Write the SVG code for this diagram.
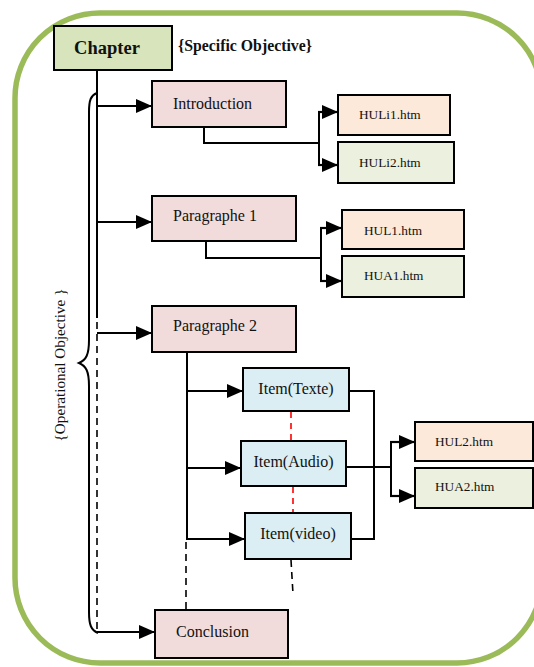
<svg xmlns="http://www.w3.org/2000/svg" width="534" height="667" viewBox="0 0 534 667">
<style>
.box{stroke:#000;stroke-width:2}
.ch{fill:#D7E4BC}
.pk{fill:#F2DCDB}
.or{fill:#FDE9D9}
.gr{fill:#EBF1DE}
.bl{fill:#DAEEF3}
.t{font-family:"Times New Roman","Liberation Serif",Tinos,"Nimbus Roman",Times,serif;fill:#111}
.t16{font-size:16px}
.t13{font-size:13.3px}
.ln{fill:none;stroke:#000;stroke-width:2}
.arr{fill:none;stroke:#000;stroke-width:2.2;marker-end:url(#ah)}
.dash{fill:none;stroke:#000;stroke-width:1.6;stroke-dasharray:7 5}
.red{fill:none;stroke:#FF0000;stroke-width:1.6;stroke-dasharray:6 5}
</style>
<defs>
<marker id="ah" markerUnits="userSpaceOnUse" markerWidth="16" markerHeight="14" refX="16" refY="7" orient="auto">
<path d="M0,0 L16,7 L0,14 z" fill="#000"/>
</marker>
</defs>
<rect x="15" y="13" width="527" height="650" rx="85" ry="85" fill="none" stroke="#9BBB59" stroke-width="5.5"/>

<g id="connectors">
<line class="ln" x1="97" y1="70" x2="97" y2="318"/>
<line class="dash" x1="97" y1="322" x2="97" y2="632"/>
<path class="ln" d="M97 93 C91 95 89 100 89 112 L89 340 C89 355 86 360 79 363 C86 366 89 371 89 386 L89 612 C89 625 91 630 98 633" stroke-width="1.6"/>
<line class="arr" x1="97" y1="106" x2="152" y2="106"/>
<line class="arr" x1="97" y1="222" x2="152" y2="222"/>
<line class="arr" x1="97" y1="333" x2="152" y2="333"/>
<line class="arr" x1="97" y1="632" x2="155" y2="632"/>
<path class="ln" d="M204 127 V143 H319"/>
<line class="ln" x1="319" y1="112" x2="319" y2="165"/>
<line class="arr" x1="318" y1="112" x2="338" y2="112"/>
<line class="arr" x1="318" y1="165" x2="338" y2="165"/>
<path class="ln" d="M206 241 V258 H321"/>
<line class="ln" x1="321" y1="228" x2="321" y2="281"/>
<line class="arr" x1="320" y1="228" x2="342" y2="228"/>
<line class="arr" x1="320" y1="281" x2="342" y2="281"/>
<line class="ln" x1="187" y1="352" x2="187" y2="540"/>
<line class="dash" x1="186" y1="542" x2="186" y2="610"/>
<line class="arr" x1="187" y1="391" x2="243" y2="391"/>
<line class="arr" x1="187" y1="468" x2="241" y2="468"/>
<line class="arr" x1="187" y1="539" x2="245" y2="539"/>
<path class="ln" d="M349 391 H374 V539 H351"/>
<line class="ln" x1="346" y1="467" x2="391" y2="467"/>
<line class="ln" x1="391" y1="442" x2="391" y2="496"/>
<line class="arr" x1="390" y1="442" x2="415" y2="442"/>
<line class="arr" x1="390" y1="496" x2="415" y2="496"/>
<line class="red" x1="291" y1="412" x2="291" y2="441"/>
<line class="red" x1="293" y1="487" x2="293" y2="513"/>
<line class="dash" x1="291" y1="560" x2="293" y2="594"/>
</g>

<g id="chapter">
<rect class="box ch" x="54" y="26" width="118" height="44"/>
<text class="t" x="107" y="54" font-size="18.5" font-weight="bold" text-anchor="middle">Chapter</text>
</g>
<g id="specific-objective">
<text class="t" x="178" y="50.5" font-size="15.8" font-weight="bold">{Specific Objective}</text>
</g>
<g id="operational-objective">
<text class="t" transform="translate(65,365) rotate(-90)" font-size="15.2" text-anchor="middle">{Operational Objective }</text>
</g>

<g id="introduction">
<rect class="box pk" x="152" y="81" width="134" height="46"/>
<text class="t t16" x="173" y="109">Introduction</text>
</g>
<g id="huli1">
<rect class="box or" x="338" y="95" width="112" height="40"/>
<text class="t t13" x="359" y="119">HULi1.htm</text>
</g>
<g id="huli2">
<rect class="box gr" x="338" y="142" width="116" height="41"/>
<text class="t t13" x="359" y="167">HULi2.htm</text>
</g>

<g id="paragraphe1">
<rect class="box pk" x="152" y="196" width="144" height="45"/>
<text class="t t16" x="173" y="221">Paragraphe 1</text>
</g>
<g id="hul1">
<rect class="box or" x="342" y="210" width="122" height="39"/>
<text class="t t13" x="364" y="235">HUL1.htm</text>
</g>
<g id="hua1">
<rect class="box gr" x="342" y="256" width="122" height="41"/>
<text class="t t13" x="364" y="280">HUA1.htm</text>
</g>

<g id="paragraphe2">
<rect class="box pk" x="152" y="306" width="144" height="46"/>
<text class="t t16" x="173" y="331">Paragraphe 2</text>
</g>

<g id="item-texte">
<rect class="box bl" x="243" y="368" width="106" height="43"/>
<text class="t t16" x="296" y="394" text-anchor="middle">Item(Texte)</text>
</g>
<g id="item-audio">
<rect class="box bl" x="241" y="441" width="105" height="45"/>
<text class="t t16" x="293.5" y="467" text-anchor="middle">Item(Audio)</text>
</g>
<g id="item-video">
<rect class="box bl" x="245" y="513" width="106" height="46"/>
<text class="t t16" x="298" y="539" text-anchor="middle">Item(video)</text>
</g>

<g id="hul2">
<rect class="box or" x="415" y="422" width="118" height="39"/>
<text class="t t13" x="435" y="446">HUL2.htm</text>
</g>
<g id="hua2">
<rect class="box gr" x="415" y="468" width="118" height="40"/>
<text class="t t13" x="435" y="491">HUA2.htm</text>
</g>

<g id="conclusion">
<rect class="box pk" x="155" y="610" width="133" height="48"/>
<text class="t t16" x="176" y="637">Conclusion</text>
</g>
</svg>
